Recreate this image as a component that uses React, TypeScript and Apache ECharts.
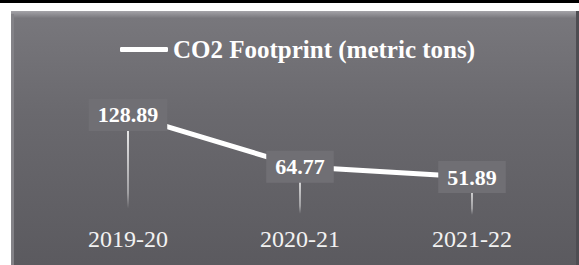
import React, { useEffect, useRef } from "react";
import * as echarts from "echarts";

const categories = ["2019-20", "2020-21", "2021-22"];
const co2Values = [128.89, 64.77, 51.89];
const seriesName = "CO2 Footprint (metric tons)";

const FONT = "'Liberation Serif', 'Times New Roman', serif";

export default function App() {
  const ref = useRef<HTMLDivElement>(null);
  useEffect(() => {
    if (!ref.current) return;
    const chart = echarts.init(ref.current, undefined, { renderer: "svg" });
    chart.setOption({
      animation: false,
      backgroundColor: "#ffffff",
      graphic: [
        {
          type: "rect",
          z: -10,
          shape: { x: 11, y: 11, width: 565, height: 254 },
          style: {
            fill: new echarts.graphic.LinearGradient(0, 0, 0, 1, [
              { offset: 0, color: "#79787d" },
              { offset: 0.4, color: "#6a696e" },
              { offset: 1, color: "#5b5a5f" },
            ]),
          },
        },
        {
          type: "rect",
          z: -9,
          shape: { x: 11, y: 11, width: 565, height: 7 },
          style: {
            fill: new echarts.graphic.LinearGradient(0, 0, 0, 1, [
              { offset: 0, color: "#a4a3a8" },
              { offset: 1, color: "#79787d" },
            ]),
          },
        },
        {
          type: "rect",
          z: -9,
          shape: { x: 11, y: 14, width: 3, height: 251 },
          style: { fill: "#838287" },
        },
        {
          type: "rect",
          z: -9,
          shape: { x: 576, y: 11, width: 3, height: 254 },
          style: { fill: "#4e4d52" },
        },
        {
          type: "rect",
          z: -9,
          shape: { x: 0, y: 0, width: 579, height: 3 },
          style: { fill: "#000000" },
        },
      ],
      legend: {
        show: true,
        left: 120,
        top: 37,
        padding: 0,
        itemWidth: 48,
        itemHeight: 5,
        itemGap: 5,
        data: [{ name: seriesName, icon: "roundRect" }],
        textStyle: {
          color: "#ffffff",
          fontFamily: FONT,
          fontWeight: "bold",
          fontSize: 25,
        },
      },
      grid: { left: 42, right: 21, top: 106, bottom: 46 },
      xAxis: {
        type: "category",
        data: categories,
        boundaryGap: true,
        axisLine: { show: false },
        axisTick: { show: false },
        splitLine: { show: false },
        axisLabel: {
          color: "#f2f2f2",
          fontFamily: FONT,
          fontSize: 24,
          margin: 8,
        },
      },
      yAxis: {
        type: "value",
        min: 0,
        max: 140,
        show: false,
      },
      series: [
        {
          type: "bar",
          name: "drop",
          data: co2Values,
          barWidth: 2,
          silent: true,
          legendHoverLink: false,
          itemStyle: {
            color: new echarts.graphic.LinearGradient(0, 0, 0, 1, [
              { offset: 0, color: "rgba(255,255,255,0.95)" },
              { offset: 0.75, color: "rgba(255,255,255,0.4)" },
              { offset: 0.9, color: "rgba(255,255,255,0)" },
              { offset: 1, color: "rgba(255,255,255,0)" },
            ]),
          },
        },
        {
          type: "line",
          name: seriesName,
          data: co2Values,
          color: "#ffffff",
          symbol: "circle",
          symbolSize: 1,
          lineStyle: { color: "#ffffff", width: 5 },
          itemStyle: { color: "#ffffff" },
          label: {
            show: true,
            position: "inside",
            formatter: (p: any) => Number(p.value).toFixed(2),
            color: "#ffffff",
            fontFamily: FONT,
            fontWeight: "bold",
            fontSize: 22,
            lineHeight: 22,
            backgroundColor: "#706f74",
            padding: [5, 9],
          },
          z: 5,
        },
      ],
    });
    return () => chart.dispose();
  }, []);
  return (
    <div
      ref={ref}
      style={{ position: "fixed", left: 0, top: 0, width: 579, height: 265 }}
    />
  );
}
